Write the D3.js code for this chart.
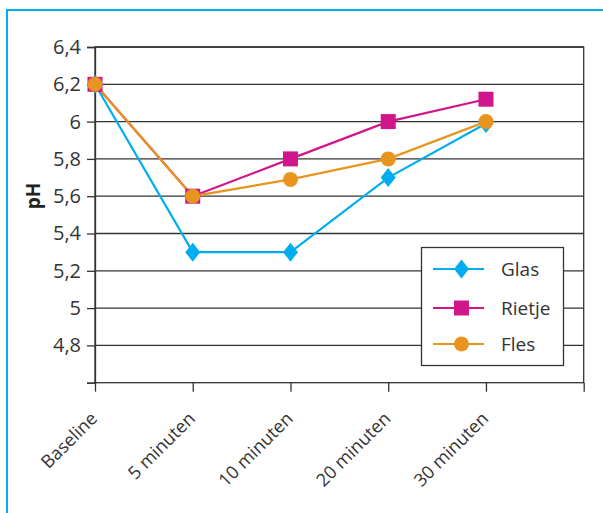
<!DOCTYPE html>
<html><head><meta charset="utf-8">
<script src="https://cdn.jsdelivr.net/npm/d3@7"></script>
<style>body{margin:0;background:#fff}svg{display:block;font-family:"Open Sans",sans-serif}</style>
</head><body>
<script>
const categories = ["Baseline","5 minuten","10 minuten","20 minuten","30 minuten"];
const glas   = [6.2, 5.3, 5.3, 5.7, 5.99];
const rietje = [6.2, 5.6, 5.8, 6.0, 6.12];
const fles   = [6.2, 5.6, 5.69, 5.8, 6.0];
const yTicks = [4.8, 5.0, 5.2, 5.4, 5.6, 5.8, 6.0, 6.2, 6.4];
const yTickLabels = ["4,8","5","5,2","5,4","5,6","5,8","6","6,2","6,4"];
const seriesNames = ["Glas","Rietje","Fles"];
const colors = ["#00AEEF","#D0168A","#E8951F"];
const shapes = ["diamond","square","circle"];

const W=603,H=513;
const svg=d3.select("body").append("svg").attr("width",W).attr("height",H);
// outer frame
svg.append("path").attr("d",`M7,${H} L7,10 L${W},10`).attr("fill","none").attr("stroke","#00AEEF").attr("stroke-width",2);

const L=95,R=583.7,T=47,B=382.7;
const x=d3.scalePoint().domain([...categories,"__end"]).range([L,R]);
const y=d3.scaleLinear().domain([4.6,6.4]).range([B,T]);

// gridlines
svg.append("g").selectAll("line").data(yTicks).join("line")
  .attr("x1",L).attr("x2",R).attr("y1",d=>y(d)).attr("y2",d=>y(d))
  .attr("stroke","#333").attr("stroke-width",1.3);
// plot frame
svg.append("rect").attr("x",L).attr("y",T).attr("width",R-L).attr("height",B-T)
  .attr("fill","none").attr("stroke","#333").attr("stroke-width",1.3);

// y axis
const yAxis=d3.axisLeft(y).tickValues([4.6,...yTicks]).tickSize(8)
  .tickFormat(d=>{const i=yTicks.indexOf(d);return i<0?"":yTickLabels[i];});
const ya=svg.append("g").attr("transform",`translate(${L},0)`).call(yAxis);
ya.select(".domain").attr("stroke","#333").attr("stroke-width",1.3);
ya.selectAll(".tick line").attr("stroke","#333").attr("stroke-width",1.3);
ya.selectAll("text").attr("font-size",20).attr("fill","#333").attr("x",-14).attr("font-family","Open Sans");

// x axis
const xAxis=d3.axisBottom(x).tickSize(9).tickFormat(d=>d==="__end"?"":d);
const xa=svg.append("g").attr("transform",`translate(0,${B})`).call(xAxis);
xa.select(".domain").remove();
xa.selectAll(".tick line").attr("stroke","#333").attr("stroke-width",1.3);
xa.selectAll("text").attr("font-size",18).attr("fill","#333").attr("font-family","Open Sans")
  .attr("text-anchor","end").attr("dy",0).attr("y",0)
  .attr("transform","translate(3,37) rotate(-45)");

// y label
svg.append("text").attr("transform","translate(40,196) rotate(-90)").attr("text-anchor","middle")
  .attr("font-size",19).attr("font-weight","bold").attr("fill","#222").text("pH");

function marker(g,shape,color,cx,cy){
  if(shape==="diamond"){
    g.append("path").attr("d",`M${cx},${cy-9.5} L${cx+7.5},${cy} L${cx},${cy+9.5} L${cx-7.5},${cy} Z`).attr("fill",color);
  } else if(shape==="square"){
    g.append("rect").attr("x",cx-7.5).attr("y",cy-7.5).attr("width",15).attr("height",15).attr("fill",color);
  } else {
    g.append("circle").attr("cx",cx).attr("cy",cy).attr("r",7.5).attr("fill",color);
  }
}

const data=[glas,rietje,fles];
const line=d3.line().x((d,i)=>x(categories[i])).y(d=>y(d));
data.forEach((s,k)=>{
  const g=svg.append("g");
  g.append("path").attr("d",line(s)).attr("fill","none").attr("stroke",colors[k]).attr("stroke-width",2.2);
});
data.forEach((s,k)=>{
  const g=svg.append("g");
  s.forEach((v,i)=>marker(g,shapes[k],colors[k],x(categories[i]),y(v)));
});

// legend
const lg=svg.append("g");
lg.append("rect").attr("x",421.5).attr("y",247.5).attr("width",142).attr("height",118)
  .attr("fill","#fff").attr("stroke","#333").attr("stroke-width",1.3);
const ly=[269,308,344];
seriesNames.forEach((n,k)=>{
  lg.append("line").attr("x1",433).attr("x2",484).attr("y1",ly[k]).attr("y2",ly[k]).attr("stroke",colors[k]).attr("stroke-width",2.2);
  marker(lg,shapes[k],colors[k],461.5,ly[k]);
  lg.append("text").attr("x",501).attr("y",ly[k]).attr("dy","0.35em").attr("font-size",19).attr("fill","#333").text(n);
});
</script>
</body></html>
